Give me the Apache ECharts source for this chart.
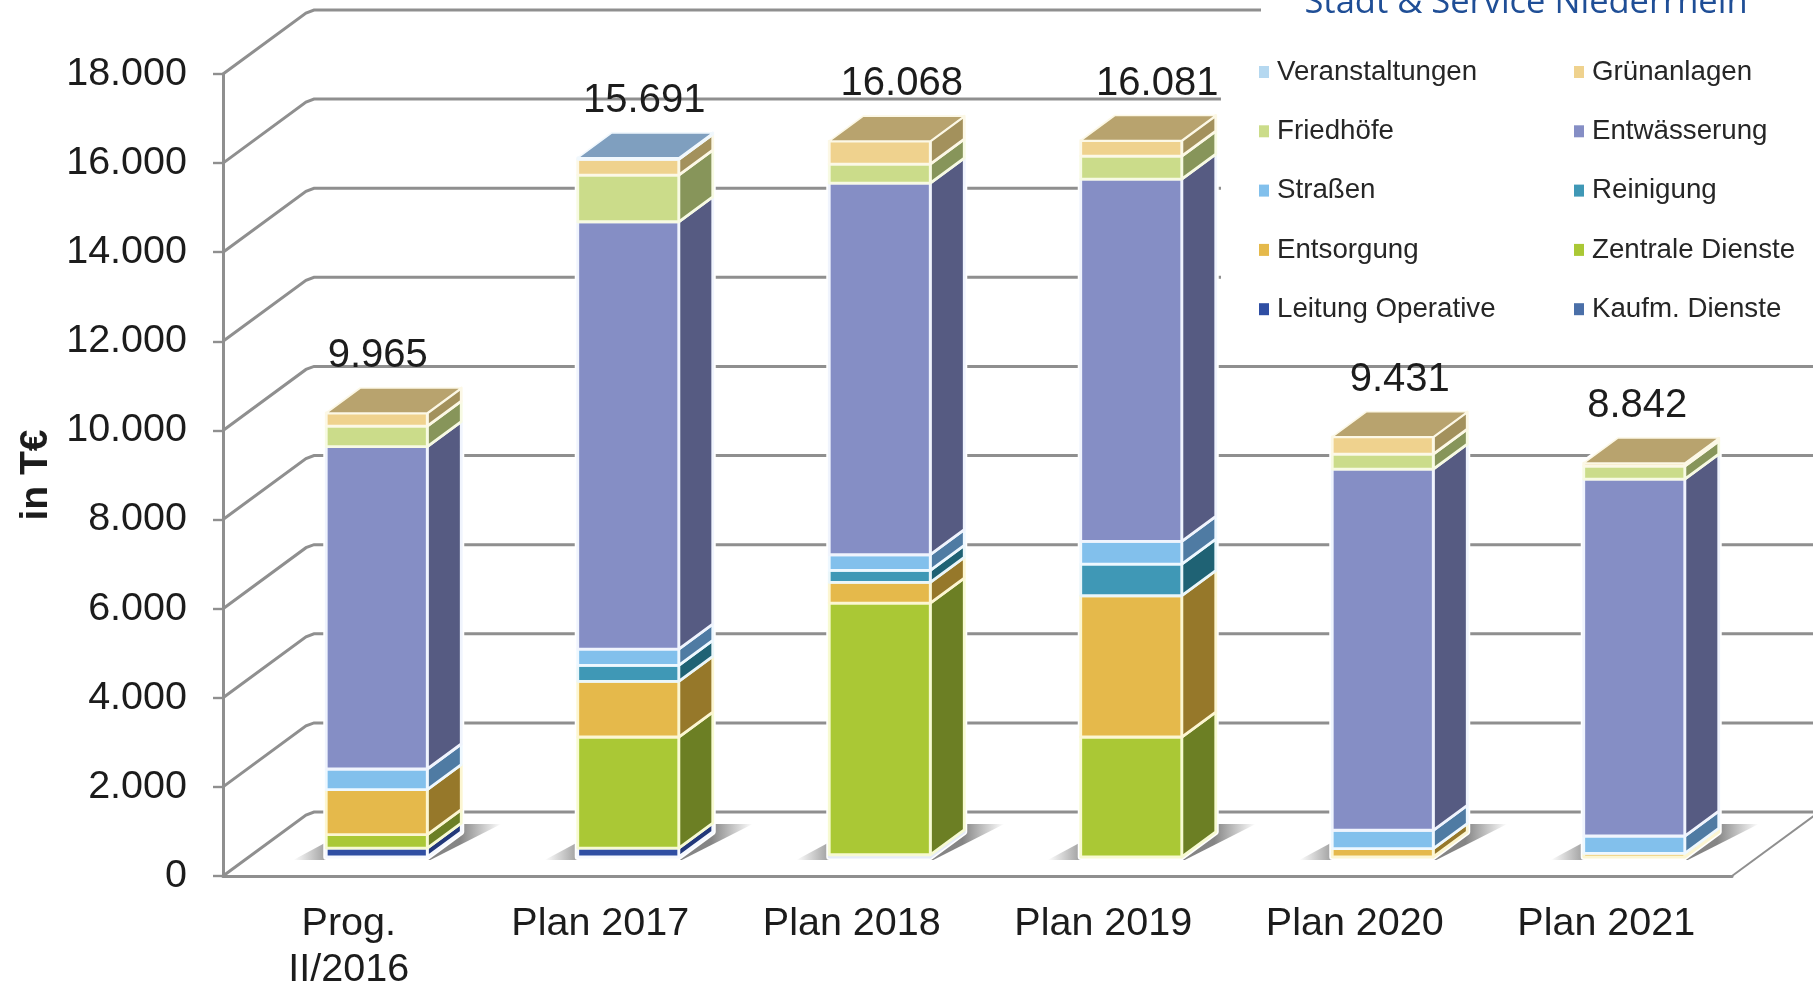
<!DOCTYPE html>
<html>
<head>
<meta charset="utf-8">
<style>html,body{margin:0;padding:0;background:#fff;overflow:hidden}#c{width:1813px;height:988px}</style>
<script src="https://cdn.jsdelivr.net/npm/echarts@6/dist/echarts.min.js"></script>
</head>
<body>
<div id="c"></div>
<script>
// ---- data ----
const categories = ['Prog.\nII/2016', 'Plan 2017', 'Plan 2018', 'Plan 2019', 'Plan 2020', 'Plan 2021'];
const yTicks = [0, 2000, 4000, 6000, 8000, 10000, 12000, 14000, 16000, 18000];
const totals = [9965, 15691, 16068, 16081, 9431, 8842];
const kaufmDienste     = [0, 0, 50, 0, 0, 0];
const leitungOperative = [200, 200, 0, 0, 0, 0];
const zentraleDienste  = [300, 2493, 5649, 2693, 0, 0];
const entsorgung       = [1010, 1249, 464, 3171, 190, 80];
const reinigung        = [0, 358, 269, 711, 0, 0];
const strassen         = [465, 367, 352, 508, 410, 391];
const entwaesserung    = [7235, 9590, 8341, 8132, 8107, 8012];
const friedhoefe       = [462, 1048, 427, 516, 337, 292];
const gruenanlagen     = [293, 355, 516, 350, 387, 67];
const veranstaltungen  = [0, 31, 0, 0, 0, 0];

// ---- styling ----
const stack = [
  {name:'Kaufm. Dienste',    values:kaufmDienste,     front:'#4a6fa8', side:'#3a5684', top:'#7f9fbf', line:'#e6ecf9'},
  {name:'Leitung Operative', values:leitungOperative, front:'#2f4ea3', side:'#22387a', top:'#7f9fbf', line:'#f6f9ff'},
  {name:'Zentrale Dienste',  values:zentraleDienste,  front:'#aac835', side:'#6c7f24', top:'#b8a36e', line:'#f7fad2'},
  {name:'Entsorgung',        values:entsorgung,       front:'#e5b94b', side:'#96782a', top:'#b8a36e', line:'#fcf6d2'},
  {name:'Reinigung',         values:reinigung,        front:'#3f98b6', side:'#1f6274', top:'#7f9fbf', line:'#eaf6fa'},
  {name:'Straßen',           values:strassen,         front:'#82c0ec', side:'#4f7ba3', top:'#7f9fbf', line:'#eef8ff'},
  {name:'Entwässerung',      values:entwaesserung,    front:'#858ec5', side:'#565b82', top:'#7f9fbf', line:'#f0f4fd'},
  {name:'Friedhöfe',         values:friedhoefe,       front:'#cbdc8a', side:'#87955a', top:'#b8a36e', line:'#f7fae3'},
  {name:'Grünanlagen',       values:gruenanlagen,     front:'#efd28e', side:'#a3915c', top:'#b8a36e', line:'#fcf8e6'},
  {name:'Veranstaltungen',   values:veranstaltungen,  front:'#b5d8f0', side:'#8ea7bd', top:'#7f9fbf', line:'#f1f8fd'}
];
const legendLeft  = ['Veranstaltungen', 'Friedhöfe', 'Straßen', 'Entsorgung', 'Leitung Operative'];
const legendRight = ['Grünanlagen', 'Entwässerung', 'Reinigung', 'Zentrale Dienste', 'Kaufm. Dienste'];
const wallDX = 87, wallDY = 64;         // depth of the floor
const barLift = 19, barShift = 28;      // where the bars stand on the floor
const barW = 101, barDX = 34, barDY = 25; // box size
const labelNudge = [1, 16, 22, 26, 17, 3]; // horizontal placement of total labels
const FONT = '"Liberation Sans", Arial, sans-serif';

const fmt = v => String(v).replace(/\B(?=(\d{3})+$)/g, '.');
const baseOf = (si, i) => stack.slice(0, si).reduce((a, s) => a + s.values[i], 0);
const topIndex = i => { for (let s = stack.length - 1; s >= 0; s--) if (stack[s].values[i] > 0) return s; return 0; };
const poly = (pts, style, z2) => ({type:'polygon', shape:{points:pts}, style, z2: z2 || 0, silent:true});

function wallItem(params, api) {
  const t = api.value(0);
  const p = api.coord([0, t]);
  const cs = params.coordSys;
  const x0 = cs.x, y = p[1], x1 = cs.x + wallDX, y1 = y - wallDY;
  const children = [{type:'polyline', silent:true,
      shape:{points:[[x0, y], [x1 - 4, y1 + 3], [x1 + 4, y1], [cs.x + cs.width + wallDX, y1]]},
      style:{stroke:'#8f8f8f', lineWidth:3, fill:null}}];
  if (t === 0) children.push({type:'line', silent:true,
      shape:{x1:cs.x + cs.width, y1:y, x2:cs.x + cs.width + wallDX, y2:y1},
      style:{stroke:'#8f8f8f', lineWidth:2}});
  return {type:'group', children};
}
function frontX(api, i) { return api.coord([i, 0])[0] + barShift - barW / 2; }

function shadowItem(params, api) {
  const i = params.dataIndex;
  const x = frontX(api, i), y = api.coord([i, 0])[1] - barLift;
  const l = x - 33, r = x + barW + barDX + 40;
  return poly([[l, y + 3], [x + barW + 3, y + 3], [r, y - 33], [x + barDX, y - 33]], {
    fill:{type:'linear', global:true, x:l, y:0, x2:r, y2:0, colorStops:[
      {offset:0, color:'rgba(120,120,120,0)'},
      {offset:0.2, color:'rgba(120,120,120,0.9)'},
      {offset:0.8, color:'rgba(120,120,120,0.9)'},
      {offset:1, color:'rgba(120,120,120,0)'}]}
  });
}
function haloItem(params, api) {
  const i = params.dataIndex;
  const x = frontX(api, i);
  const b = api.coord([i, 0])[1] - barLift;
  const t = api.coord([i, api.value(1)])[1] - barLift;
  return poly([[x, b], [x + barW, b], [x + barW + barDX, b - barDY], [x + barW + barDX, t - barDY],
               [x + barDX, t - barDY], [x, t]], {fill:'#fff', stroke:'#fff', lineWidth:6, lineJoin:'round'});
}
function segmentItem(si) {
  const s = stack[si];
  return function (params, api) {
    const i = params.dataIndex;
    const v = api.value(1);
    if (!(v > 0)) return null;
    const x = frontX(api, i);
    const yb = api.coord([i, baseOf(si, i)])[1] - barLift;
    const yt = api.coord([i, baseOf(si, i) + v])[1] - barLift;
    const st = {stroke:s.line, lineWidth:2.8, lineJoin:'round'};
    const kids = [
      poly([[x + barW, yb], [x + barW + barDX, yb - barDY], [x + barW + barDX, yt - barDY], [x + barW, yt]],
           Object.assign({fill:s.side}, st)),
      poly([[x, yb], [x + barW, yb], [x + barW, yt], [x, yt]], Object.assign({fill:s.front}, st), 1)
    ];
    if (topIndex(i) === si) {
      kids.push(poly([[x, yt], [x + barW, yt], [x + barW + barDX, yt - barDY], [x + barDX, yt - barDY]],
                     {fill:s.top, stroke:s.line, lineWidth:1.6, lineJoin:'round'}, 2));
    }
    return {type:'group', children:kids};
  };
}
function labelItem(params, api) {
  const i = params.dataIndex;
  const p = api.coord([i, api.value(1)]);
  return {type:'text', silent:true, style:{
    text:fmt(api.value(1)), x:p[0] + barShift + labelNudge[i], y:p[1] - barLift - barDY - 32,
    align:'center', verticalAlign:'middle', fill:'#1c1c1c', font:'40px ' + FONT}};
}

const indexed = arr => arr.map((v, i) => [i, v]);
const legendBase = {
  orient:'vertical', icon:'rect', itemWidth:10, itemHeight:12, itemGap:31.3, selectedMode:false, padding:0,
  textStyle:{fontFamily:FONT, fontSize:27.7, color:'#262626', padding:[0, 0, 0, 3], lineHeight:27}, z:6
};

const option = {
  animation:false,
  backgroundColor:'#fff',
  grid:{left:223, right:81, top:74, bottom:112, outerBoundsMode:'none'},
  xAxis:{type:'category', data:categories, boundaryGap:true,
    axisLine:{lineStyle:{color:'#8f8f8f', width:3}},
    axisTick:{length:10, lineStyle:{color:'#8f8f8f', width:2.4}},
    axisLabel:{fontFamily:FONT, fontSize:39.5, color:'#1c1c1c', margin:25, lineHeight:46, interval:0},
    splitLine:{show:false}},
  yAxis:{type:'value', min:0, max:18000, interval:2000,
    name:'in T€', nameLocation:'middle', nameGap:167, nameRotate:90,
    nameTextStyle:{fontFamily:FONT, fontSize:39, fontWeight:'bold', color:'#1c1c1c'},
    axisLine:{show:true, lineStyle:{color:'#8f8f8f', width:3}},
    axisTick:{show:true, length:10, lineStyle:{color:'#8f8f8f', width:2.4}},
    axisLabel:{fontFamily:FONT, fontSize:39.5, color:'#1c1c1c', margin:36, formatter:fmt},
    splitLine:{show:false}},
  legend:[
    Object.assign({}, legendBase, {left:1259, top:58, data:legendLeft}),
    Object.assign({}, legendBase, {left:1574, top:58, data:legendRight})
  ],
  graphic:{elements:[
    {type:'rect', z:1.5, silent:true, shape:{x:1221, y:88, width:592, height:270}, style:{fill:'#fff'}},
    {type:'rect', z:1.5, silent:true, shape:{x:1261, y:0, width:552, height:88}, style:{fill:'#fff'}},
    {type:'text', z:6, silent:true, style:{text:'Stadt & Service Niederrhein', x:1526, y:21, align:'center',
      verticalAlign:'bottom', fill:'#1f4e96', font:'34.5px "Open Sans", sans-serif'}}
  ]},
  series:[
    {type:'custom', name:'walls', z:1, data:yTicks.map(t => [t]), encode:{y:0}, renderItem:wallItem, silent:true, clip:false},
    {type:'custom', name:'shadow', z:2, data:indexed(totals), encode:{x:0, y:1}, renderItem:shadowItem, silent:true},
    {type:'custom', name:'halo', z:2.5, data:indexed(totals), encode:{x:0, y:1}, renderItem:haloItem, silent:true},
  ].concat(stack.map((s, si) => ({
    type:'custom', name:s.name, z:3, data:indexed(s.values), encode:{x:0, y:1},
    itemStyle:{color:s.front}, renderItem:segmentItem(si), silent:true
  }))).concat([
    {type:'custom', name:'totals', z:5, data:indexed(totals), encode:{x:0, y:1}, renderItem:labelItem, silent:true}
  ])
};
const chart = echarts.init(document.getElementById('c'), null, {renderer:'canvas', width:1813, height:988});
chart.setOption(option);
</script>
</body>
</html>
